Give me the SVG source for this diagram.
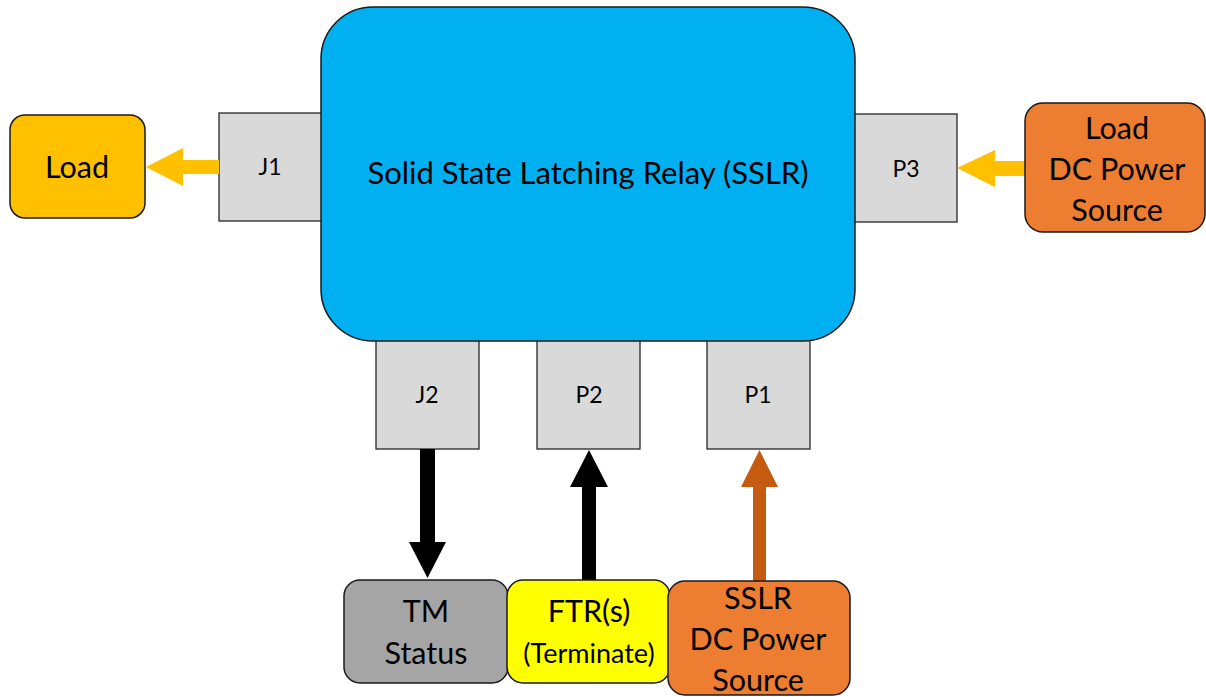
<svg xmlns="http://www.w3.org/2000/svg" width="1206" height="697" viewBox="0 0 1206 697">
<style>
text{font-family:Lato,"Open Sans","Liberation Sans",sans-serif;fill:#000;text-anchor:middle}
.port{fill:#D9D9D9;stroke:#262626;stroke-width:1.3}
.n{stroke:#1a1a1a;stroke-width:1.5}
.big{font-size:30.5px}
.pt{font-size:23px}
</style>
<rect width="1206" height="697" fill="#fff"/>
<g id="ports">
<g id="J1"><rect class="port" x="219" y="113" width="110" height="108"/><text class="pt" x="270" y="175">J1</text></g>
<g id="P3"><rect class="port" x="845" y="114" width="112" height="108"/><text class="pt" x="906" y="177">P3</text></g>
<g id="J2"><rect class="port" x="376" y="335" width="103" height="114"/><text class="pt" x="427" y="403">J2</text></g>
<g id="P2"><rect class="port" x="537" y="335" width="103" height="114"/><text class="pt" x="589" y="403">P2</text></g>
<g id="P1"><rect class="port" x="707" y="335" width="103" height="114"/><text class="pt" x="758" y="403">P1</text></g>
</g>
<g id="SSLR">
<rect x="321" y="7" width="534" height="334" rx="52" ry="52" fill="#00B0F0" class="n"/>
<text x="588" y="184" font-size="31">Solid State Latching Relay (SSLR)</text>
</g>
<g id="connectors">
<polygon fill="#FFC000" points="219,160 183,160 183,148 146,167 183,186 183,174 219,174"/>
<polygon fill="#FFC000" points="1025,161 995,161 995,150 957,168 995,187 995,176 1025,176"/>
<polygon fill="#000" points="420,449 435,449 435,542 446,542 427.5,578 409,542 420,542"/>
<polygon fill="#000" points="582,580 596,580 596,487 608,487 589,450 570,487 582,487"/>
<polygon fill="#C55A11" points="753,581 766,581 766,487 778,487 759.5,450 741,487 753,487"/>
</g>
<g id="Load">
<rect x="10" y="115" width="135" height="103" rx="15" fill="#FFC000" class="n"/>
<text class="big" x="77" y="178">Load</text>
</g>
<g id="LoadDC">
<rect x="1025" y="103" width="180" height="129" rx="18" fill="#ED7D31" class="n"/>
<text class="big" x="1117" y="139">Load</text>
<text class="big" x="1117" y="180">DC Power</text>
<text class="big" x="1117" y="221">Source</text>
</g>
<g id="TM">
<rect x="344" y="580" width="164" height="103" rx="16" fill="#A5A5A5" class="n"/>
<text class="big" x="426" y="622">TM</text>
<text class="big" x="426" y="664">Status</text>
</g>
<g id="FTR">
<rect x="507" y="580" width="163" height="103" rx="16" fill="#FFFF00" class="n"/>
<text class="big" x="589" y="622">FTR(s)</text>
<text x="589" y="663" font-size="27">(Terminate)</text>
</g>
<g id="SSLRDC">
<rect x="668" y="581" width="182" height="114" rx="17" fill="#ED7D31" class="n"/>
<text class="big" x="758" y="609">SSLR</text>
<text class="big" x="758" y="650">DC Power</text>
<text class="big" x="758" y="691">Source</text>
</g>
</svg>
